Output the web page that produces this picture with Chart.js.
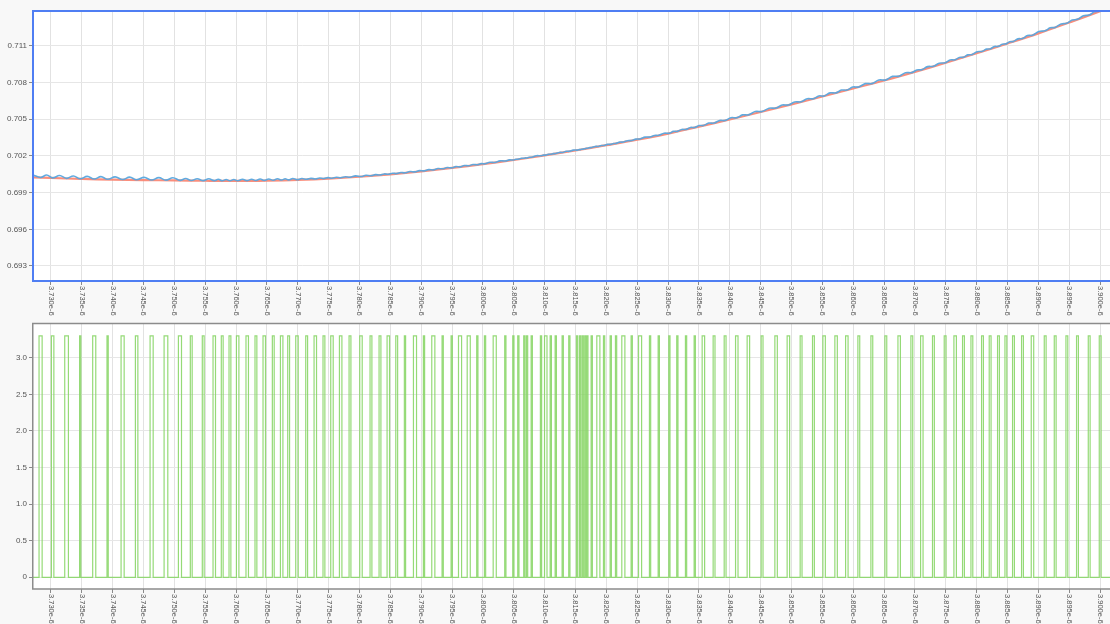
<!DOCTYPE html>
<html>
<head>
<meta charset="utf-8">
<script src="https://cdn.jsdelivr.net/npm/chart.js@4.4.1/dist/chart.umd.min.js"></script>
<style>
  html, body { margin: 0; padding: 0; background: #f8f8f8; }
  #wrap { position: relative; width: 1110px; height: 624px; overflow: hidden; }
  canvas { position: absolute; left: 0; }
  #vout { top: 0; }
  #gate { top: 317px; }
</style>
</head>
<body>
<div id="wrap">
  <canvas id="vout" width="1110" height="317"></canvas>
  <canvas id="gate" width="1110" height="307"></canvas>
</div>
<script>
// ---- time axis (values in units of 1e-6) ----
const timeMin = 3.7271;
const timeMax = 3.9016;
const timeTicks = [3.730, 3.735, 3.740, 3.745, 3.750, 3.755, 3.760, 3.765, 3.770, 3.775,
  3.780, 3.785, 3.790, 3.795, 3.800, 3.805, 3.810, 3.815, 3.820, 3.825, 3.830, 3.835,
  3.840, 3.845, 3.850, 3.855, 3.860, 3.865, 3.870, 3.875, 3.880, 3.885, 3.890, 3.895, 3.900];

// ---- output voltage panel ----
const voltTicks = [0.693, 0.696, 0.699, 0.702, 0.705, 0.708, 0.711];
const voltMin = 0.69177;
const voltMax = 0.71386;

// averaged (smooth) output voltage
const avgTime = [3.7271, 3.730, 3.735, 3.740, 3.745, 3.750, 3.755, 3.760, 3.765, 3.770, 3.775,
  3.780, 3.785, 3.790, 3.795, 3.800, 3.805, 3.810, 3.815, 3.820, 3.825, 3.830, 3.835,
  3.840, 3.845, 3.850, 3.855, 3.860, 3.865, 3.870, 3.875, 3.880, 3.885, 3.890, 3.895, 3.900, 3.9016];
const avgVolt = [0.70025, 0.70020, 0.70012, 0.70007, 0.70003, 0.70000, 0.69997, 0.69996, 0.69999, 0.70005, 0.70015,
  0.70030, 0.70050, 0.70074, 0.70102, 0.70133, 0.70167, 0.70205, 0.70245, 0.70288, 0.70333, 0.70383, 0.70440,
  0.70498, 0.70560, 0.70622, 0.70686, 0.70752, 0.70817, 0.70888, 0.70963, 0.71040, 0.71120, 0.71203, 0.71292, 0.71385, 0.71420];

// instantaneous output voltage with switching ripple: [time, volt] (troughs and crests)
const rippleTrace = [
  [3.7271, 0.70045],
  [3.72833, 0.70024], [3.72931, 0.70044], [3.73028, 0.70021], [3.73141, 0.70040],
  [3.73254, 0.70017], [3.73365, 0.70036], [3.73475, 0.70013], [3.73589, 0.70033],
  [3.73702, 0.70011], [3.73811, 0.70031], [3.73919, 0.70009], [3.74041, 0.70029],
  [3.74162, 0.70007], [3.74276, 0.70027], [3.74389, 0.70005], [3.74511, 0.70025],
  [3.74632, 0.70003], [3.74748, 0.70023], [3.74864, 0.70002], [3.74978, 0.70022],
  [3.75091, 0.70000], [3.75183, 0.70015], [3.75274, 0.69999], [3.75371, 0.70014],
  [3.75468, 0.69998], [3.75558, 0.70013], [3.75647, 0.69998], [3.75712, 0.70009],
  [3.75776, 0.69997], [3.75839, 0.70008], [3.75901, 0.69997], [3.75964, 0.70008],
  [3.76026, 0.69997], [3.76104, 0.70009], [3.76181, 0.69998], [3.76252, 0.70010],
  [3.76322, 0.69999], [3.76390, 0.70011], [3.76457, 0.70000], [3.76530, 0.70012],
  [3.76603, 0.70001], [3.76671, 0.70013], [3.76739, 0.70003], [3.76796, 0.70013],
  [3.76852, 0.70004], [3.76920, 0.70016], [3.76987, 0.70006], [3.77066, 0.70015],
  [3.77144, 0.70009], [3.77214, 0.70017], [3.77284, 0.70012], [3.77354, 0.70020],
  [3.77424, 0.70015], [3.77489, 0.70023], [3.77554, 0.70018], [3.77625, 0.70026],
  [3.77695, 0.70022], [3.77771, 0.70030], [3.77846, 0.70026], [3.77935, 0.70037],
  [3.78024, 0.70032], [3.78105, 0.70042], [3.78186, 0.70038], [3.78259, 0.70047],
  [3.78332, 0.70044], [3.78400, 0.70053], [3.78467, 0.70050], [3.78535, 0.70059],
  [3.78603, 0.70056], [3.78670, 0.70065], [3.78737, 0.70062], [3.78818, 0.70073],
  [3.78899, 0.70070], [3.78972, 0.70080], [3.79045, 0.70078], [3.79121, 0.70088],
  [3.79196, 0.70086], [3.79272, 0.70097], [3.79348, 0.70095], [3.79421, 0.70105],
  [3.79494, 0.70103], [3.79562, 0.70113], [3.79629, 0.70111], [3.79700, 0.70122],
  [3.79770, 0.70120], [3.79840, 0.70130], [3.79909, 0.70128], [3.79972, 0.70137],
  [3.80034, 0.70136], [3.80113, 0.70148], [3.80191, 0.70147], [3.80277, 0.70160],
  [3.80363, 0.70159], [3.80428, 0.70168], [3.80493, 0.70167], [3.80534, 0.70173],
  [3.80574, 0.70174], [3.80623, 0.70181], [3.80671, 0.70181], [3.80693, 0.70184],
  [3.80715, 0.70184], [3.80753, 0.70189], [3.80791, 0.70190], [3.80866, 0.70202],
  [3.80941, 0.70202], [3.80980, 0.70207], [3.81018, 0.70207], [3.81059, 0.70213],
  [3.81099, 0.70214], [3.81140, 0.70219], [3.81180, 0.70220], [3.81237, 0.70229],
  [3.81293, 0.70229], [3.81347, 0.70238], [3.81400, 0.70238], [3.81463, 0.70248],
  [3.81525, 0.70248], [3.81550, 0.70251], [3.81574, 0.70252], [3.81596, 0.70255],
  [3.81617, 0.70256], [3.81638, 0.70259], [3.81659, 0.70260], [3.81676, 0.70263],
  [3.81692, 0.70263], [3.81728, 0.70268], [3.81763, 0.70269], [3.81817, 0.70278],
  [3.81870, 0.70278], [3.81917, 0.70285], [3.81963, 0.70286], [3.82017, 0.70295],
  [3.82071, 0.70295], [3.82114, 0.70302], [3.82157, 0.70303], [3.82216, 0.70313],
  [3.82275, 0.70314], [3.82343, 0.70325], [3.82411, 0.70326], [3.82479, 0.70338],
  [3.82546, 0.70339], [3.82627, 0.70354], [3.82708, 0.70355], [3.82779, 0.70368],
  [3.82849, 0.70369], [3.82935, 0.70386], [3.83021, 0.70386], [3.83086, 0.70401],
  [3.83150, 0.70401], [3.83221, 0.70417], [3.83291, 0.70417], [3.83362, 0.70433],
  [3.83432, 0.70433], [3.83502, 0.70449], [3.83572, 0.70449], [3.83659, 0.70469],
  [3.83745, 0.70469], [3.83835, 0.70490], [3.83924, 0.70490], [3.84019, 0.70513],
  [3.84113, 0.70513], [3.84207, 0.70536], [3.84301, 0.70536], [3.84412, 0.70563],
  [3.84523, 0.70564], [3.84637, 0.70591], [3.84750, 0.70592], [3.84850, 0.70617],
  [3.84949, 0.70617], [3.85052, 0.70642], [3.85155, 0.70643], [3.85255, 0.70668],
  [3.85355, 0.70668], [3.85442, 0.70691], [3.85528, 0.70691], [3.85625, 0.70716],
  [3.85722, 0.70716], [3.85809, 0.70739], [3.85896, 0.70739], [3.85993, 0.70764],
  [3.86090, 0.70765], [3.86196, 0.70792], [3.86301, 0.70792], [3.86415, 0.70821],
  [3.86528, 0.70822], [3.86636, 0.70851], [3.86744, 0.70853], [3.86847, 0.70881],
  [3.86949, 0.70882], [3.87030, 0.70904], [3.87111, 0.70906], [3.87205, 0.70931],
  [3.87299, 0.70934], [3.87394, 0.70959], [3.87489, 0.70962], [3.87570, 0.70985],
  [3.87651, 0.70987], [3.87719, 0.71006], [3.87786, 0.71008], [3.87854, 0.71027],
  [3.87922, 0.71029], [3.88008, 0.71053], [3.88094, 0.71056], [3.88156, 0.71074],
  [3.88218, 0.71076], [3.88286, 0.71095], [3.88353, 0.71097], [3.88413, 0.71114],
  [3.88473, 0.71117], [3.88535, 0.71134], [3.88596, 0.71137], [3.88669, 0.71158],
  [3.88742, 0.71161], [3.88823, 0.71185], [3.88904, 0.71188], [3.89007, 0.71218],
  [3.89110, 0.71224], [3.89191, 0.71248], [3.89272, 0.71252], [3.89367, 0.71280],
  [3.89461, 0.71286], [3.89547, 0.71312], [3.89633, 0.71318], [3.89728, 0.71347],
  [3.89823, 0.71353], [3.89912, 0.71381], [3.90001, 0.71386], [3.90100, 0.71414]
];

// ---- gate drive panel ----
const gateTicks = [0, 0.5, 1.0, 1.5, 2.0, 2.5, 3.0];
const gateMin = -0.16;
const gateMax = 3.464;
const gateHigh = 3.3;

// PWM pulses: [centre time, on-width]
const gatePulses = [
  [3.72833, 0.0005], [3.73028, 0.0004], [3.73254, 0.0006], [3.73475, 0.0002], [3.73702, 0.0005],
  [3.73919, 0.0002], [3.74162, 0.0005], [3.74389, 0.0004], [3.74632, 0.0005], [3.74864, 0.0006],
  [3.75091, 0.0005], [3.75274, 0.0003], [3.75468, 0.0003], [3.75647, 0.0004], [3.75776, 0.0003],
  [3.75901, 0.0003], [3.76026, 0.0004], [3.76181, 0.0004], [3.76322, 0.0003], [3.76457, 0.0004],
  [3.76603, 0.0003], [3.76739, 0.0004], [3.76852, 0.0003], [3.76987, 0.0004], [3.77144, 0.0003],
  [3.77284, 0.0004], [3.77424, 0.0003], [3.77554, 0.0004], [3.77695, 0.0004], [3.77846, 0.0003],
  [3.78024, 0.0004], [3.78186, 0.0003], [3.78332, 0.0003], [3.78467, 0.0004], [3.78603, 0.0003],
  [3.78737, 0.0002], [3.78899, 0.0005], [3.79045, 0.0002], [3.79196, 0.0005], [3.79348, 0.0002],
  [3.79494, 0.0002], [3.79629, 0.0005], [3.79770, 0.0005], [3.79909, 0.0002], [3.80034, 0.0002],
  [3.80191, 0.0005], [3.80363, 0.0002], [3.80493, 0.0002], [3.80574, 0.0002], [3.80671, 0.0002],
  [3.80715, 0.0002], [3.80791, 0.0002], [3.80941, 0.0002], [3.81018, 0.0004], [3.81099, 0.0002],
  [3.81180, 0.0002], [3.81293, 0.0002], [3.81400, 0.0002], [3.81525, 0.0002], [3.81574, 0.0002],
  [3.81617, 0.0002], [3.81659, 0.0002], [3.81692, 0.0002], [3.81763, 0.0002], [3.81870, 0.0005],
  [3.81963, 0.0002], [3.82071, 0.0002], [3.82157, 0.0002], [3.82275, 0.0005], [3.82411, 0.0002],
  [3.82546, 0.0005], [3.82708, 0.0002], [3.82849, 0.0002], [3.83021, 0.0002], [3.83150, 0.0002],
  [3.83291, 0.0002], [3.83432, 0.0002], [3.83572, 0.0004], [3.83745, 0.0003], [3.83924, 0.0003],
  [3.84113, 0.0004], [3.84301, 0.0004], [3.84523, 0.0003], [3.84750, 0.0004], [3.84949, 0.0004],
  [3.85155, 0.0003], [3.85355, 0.0003], [3.85528, 0.0004], [3.85722, 0.0004], [3.85896, 0.0004],
  [3.86090, 0.0003], [3.86301, 0.0003], [3.86528, 0.0003], [3.86744, 0.0004], [3.86949, 0.0003],
  [3.87111, 0.0004], [3.87299, 0.0003], [3.87489, 0.0003], [3.87651, 0.0004], [3.87786, 0.0003],
  [3.87922, 0.0003], [3.88094, 0.0003], [3.88218, 0.0003], [3.88353, 0.0003], [3.88473, 0.0003],
  [3.88596, 0.0003], [3.88742, 0.0003], [3.88904, 0.0004], [3.89110, 0.0003], [3.89272, 0.0003],
  [3.89461, 0.0003], [3.89633, 0.0003], [3.89823, 0.0003], [3.90001, 0.0003]
];

// ---- shared styling helpers ----
const FONT = '"Liberation Sans", Arial, sans-serif';
const formatTime = v => v.toFixed(3) + 'e-6';

// white plot background + partial frame (left, top, bottom)
const plotFrame = {
  id: 'plotFrame',
  beforeDraw(chart) {
    const { ctx, chartArea: a } = chart;
    ctx.save();
    ctx.fillStyle = '#ffffff';
    ctx.fillRect(a.left, a.top, a.right - a.left, a.bottom - a.top);
    ctx.restore();
  },
  afterDraw(chart, args, opts) {
    const { ctx, chartArea: a } = chart;
    const h = opts.width / 2;
    ctx.save();
    ctx.strokeStyle = opts.color;
    ctx.lineWidth = opts.width;
    ctx.beginPath();
    ctx.moveTo(a.right, a.top + h - 1);
    ctx.lineTo(a.left + h - 1, a.top + h - 1);
    ctx.lineTo(a.left + h - 1, a.bottom);
    ctx.lineTo(a.right, a.bottom);
    ctx.stroke();
    ctx.restore();
  }
};

// time labels written downward under each tick
const timeLabels = {
  id: 'timeLabels',
  afterDraw(chart) {
    const xs = chart.scales.x;
    const ctx = chart.ctx;
    const y0 = chart.chartArea.bottom + 5;
    ctx.save();
    ctx.font = '7.5px ' + FONT;
    ctx.fillStyle = '#555';
    ctx.textAlign = 'left';
    ctx.textBaseline = 'middle';
    xs.ticks.forEach(t => {
      const x = xs.getPixelForValue(t.value);
      ctx.save();
      ctx.translate(x, y0);
      ctx.rotate(Math.PI / 2);
      ctx.fillText(formatTime(t.value), 0, 0);
      ctx.restore();
    });
    ctx.restore();
  }
};

function timeScale(axisHeight) {
  return {
    type: 'linear',
    min: timeMin,
    max: timeMax,
    afterBuildTicks: s => { s.ticks = timeTicks.map(v => ({ value: v })); },
    afterFit: s => { s.height = axisHeight; },
    ticks: { display: false },
    grid: { color: '#e2e2e2', lineWidth: 1, tickLength: 4, tickColor: '#8a8a8a' },
    border: { display: false }
  };
}

function valueScale(min, max, ticks, fmt) {
  return {
    type: 'linear',
    min: min,
    max: max,
    afterBuildTicks: s => { s.ticks = ticks.map(v => ({ value: v })); },
    afterFit: s => { s.width = 33; },
    ticks: { font: { size: 8, family: FONT }, color: '#555', padding: 2, callback: fmt },
    grid: { color: '#e6e6e6', lineWidth: 1, tickLength: 4, tickColor: '#8a8a8a' },
    border: { display: false }
  };
}

// ---- output voltage chart ----
new Chart(document.getElementById('vout'), {
  type: 'line',
  data: {
    datasets: [
      {
        label: 'v_out',
        data: rippleTrace.map(([x, y]) => ({ x, y })),
        borderColor: 'rgba(88,166,222,0.95)',
        borderWidth: 1.6,
        pointRadius: 0,
        tension: 0.4
      },
      {
        label: 'v_out (avg)',
        data: avgTime.map((x, i) => ({ x, y: avgVolt[i] })),
        borderColor: 'rgba(250,130,110,0.9)',
        borderWidth: 2.2,
        pointRadius: 0,
        tension: 0.4
      }
    ]
  },
  options: {
    responsive: false,
    animation: false,
    layout: { padding: { top: 11, left: 0, right: 0, bottom: 0 } },
    plugins: {
      legend: { display: false },
      tooltip: { enabled: false },
      plotFrame: { color: '#4f7ef3', width: 2 }
    },
    scales: {
      x: timeScale(36),
      y: valueScale(voltMin, voltMax, voltTicks, v => v.toFixed(3))
    }
  },
  plugins: [plotFrame, timeLabels]
});

// ---- gate drive chart ----
const gateTrace = [{ x: timeMin, y: 0 }];
gatePulses.forEach(([c, w]) => {
  const on = c - w / 2, off = c + w / 2;
  gateTrace.push({ x: on, y: 0 }, { x: on, y: gateHigh }, { x: off, y: gateHigh }, { x: off, y: 0 });
});
gateTrace.push({ x: timeMax, y: 0 });

new Chart(document.getElementById('gate'), {
  type: 'line',
  data: {
    datasets: [{
      label: 'gate',
      data: gateTrace,
      borderColor: 'rgba(130,212,95,0.85)',
      borderWidth: 1.2,
      pointRadius: 0,
      tension: 0
    }]
  },
  options: {
    responsive: false,
    animation: false,
    layout: { padding: { top: 1, left: 0, right: 0, bottom: 0 } },
    plugins: {
      legend: { display: false },
      tooltip: { enabled: false },
      plotFrame: { color: '#8c8c8c', width: 1.5 }
    },
    scales: {
      x: timeScale(35),
      y: valueScale(gateMin, gateMax, gateTicks, v => (v === 0 ? '0' : v.toFixed(1)))
    }
  },
  plugins: [plotFrame, timeLabels]
});
</script>
</body>
</html>
